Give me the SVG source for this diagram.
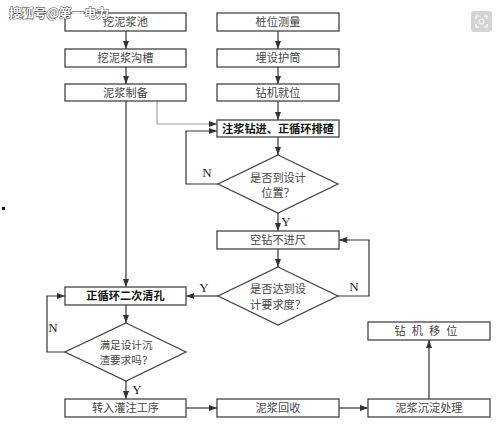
<svg xmlns="http://www.w3.org/2000/svg" width="500" height="427" viewBox="0 0 500 427">
<defs>
<marker id="ah" viewBox="0 0 8 6" refX="8" refY="3" markerWidth="8" markerHeight="6" markerUnits="userSpaceOnUse" orient="auto">
<path d="M0,0 L8,3 L0,6 Z" fill="#333"/>
</marker>
</defs>
<style>
.box{fill:#fff;stroke:#444;stroke-width:1.3}
.t{font-family:"Noto Sans CJK SC","Noto Sans",sans-serif;font-size:11.2px;fill:#444;text-anchor:middle}
.s{font-size:10.6px}
.b{font-weight:bold;fill:#111}
.yn{font-family:"Liberation Serif",serif;font-size:13px;fill:#222;text-anchor:middle}
.c{fill:none;stroke:#333;stroke-width:1.2}
.g{fill:none;stroke:#999;stroke-width:1.1}
</style>
<rect x="0" y="0" width="500" height="427" fill="#fff"/>

<g id="connectors">
<path class="c" d="M126,31 V49" marker-end="url(#ah)"/>
<path class="c" d="M126,67 V84" marker-end="url(#ah)"/>
<path class="c" d="M126,101 V287" marker-end="url(#ah)"/>
<path class="g" d="M157,101 V124 H217" marker-end="url(#ah)"/>
<path class="c" d="M278,31 V49" marker-end="url(#ah)"/>
<path class="c" d="M278,67 V84" marker-end="url(#ah)"/>
<path class="c" d="M278,101 V120" marker-end="url(#ah)"/>
<path class="c" d="M278,137 V155" marker-end="url(#ah)"/>
<path class="c" d="M218,184 H186 V131 H217" marker-end="url(#ah)"/>
<path class="c" d="M278,213 V231" marker-end="url(#ah)"/>
<path class="c" d="M278,249 V267" marker-end="url(#ah)"/>
<path class="c" d="M338,296 H369 V240 H339" marker-end="url(#ah)"/>
<path class="c" d="M218,296 H186" marker-end="url(#ah)"/>
<path class="c" d="M126,305 V323" marker-end="url(#ah)"/>
<path class="c" d="M65,352 H47 V296 H65" marker-end="url(#ah)"/>
<path class="c" d="M126,381 V399" marker-end="url(#ah)"/>
<path class="c" d="M186,408 H217" marker-end="url(#ah)"/>
<path class="c" d="M339,408 H368" marker-end="url(#ah)"/>
<path class="c" d="M429,399 V340" marker-end="url(#ah)"/>
<text class="yn" x="207" y="177">N</text>
<text class="yn" x="286" y="226">Y</text>
<text class="yn" x="354" y="291">N</text>
<text class="yn" x="204" y="292">Y</text>
<text class="yn" x="53" y="332">N</text>
<text class="yn" x="137" y="394">Y</text>
</g>

<g id="n1"><rect class="box" x="65" y="13" width="121" height="18"/><text class="t" x="125.5" y="26">挖泥浆池</text></g>
<g id="n2"><rect class="box" x="65" y="49" width="121" height="18"/><text class="t" x="125.5" y="62">挖泥浆沟槽</text></g>
<g id="n3"><rect class="box" x="65" y="84" width="121" height="17"/><text class="t" x="125.5" y="96.5">泥浆制备</text></g>
<g id="n4"><rect class="box" x="217" y="13" width="122" height="18"/><text class="t" x="278" y="26">桩位测量</text></g>
<g id="n5"><rect class="box" x="217" y="49" width="122" height="18"/><text class="t" x="278" y="62">埋设护筒</text></g>
<g id="n6"><rect class="box" x="217" y="84" width="122" height="17"/><text class="t" x="278" y="96.5">钻机就位</text></g>
<g id="n7"><rect class="box" x="217" y="120" width="122" height="17"/><text class="t b" x="278" y="132.5">注浆钻进、正循环排碴</text></g>
<g id="d1"><path class="box" d="M278,155 L338,184 L278,213 L218,184 Z"/><text class="t" x="278" y="182">是否到设计</text><text class="t" x="278" y="197">位置？</text></g>
<g id="n8"><rect class="box" x="217" y="231" width="122" height="18"/><text class="t" x="278" y="244">空钻不进尺</text></g>
<g id="d2"><path class="box" d="M278,267 L338,296 L278,325 L218,296 Z"/><text class="t" x="278" y="293">是否达到设</text><text class="t" x="278" y="309">计要求度？</text></g>
<g id="n9"><rect class="box" x="65" y="287" width="121" height="18"/><text class="t b" x="125.5" y="300">正循环二次清孔</text></g>
<g id="d3"><path class="box" d="M126,323 L186,352 L126,381 L65,352 Z"/><text class="t s" x="126" y="349">满足设计沉</text><text class="t s" x="126" y="364">渣要求吗？</text></g>
<g id="n10"><rect class="box" x="65" y="399" width="121" height="18"/><text class="t" x="125.5" y="412">转入灌注工序</text></g>
<g id="n11"><rect class="box" x="217" y="399" width="122" height="18"/><text class="t" x="278" y="412">泥浆回收</text></g>
<g id="n12"><rect class="box" x="368" y="399" width="122" height="18"/><text class="t" x="429" y="412">泥浆沉淀处理</text></g>
<g id="n13"><rect class="box" x="368" y="322" width="122" height="18"/><text class="t" x="429" y="335" letter-spacing="6">钻机移位</text></g>

<g id="watermark">
<text x="9" y="18" font-family="Noto Sans CJK SC,sans-serif" font-size="12.5" font-weight="bold" fill="#fff" stroke="#333" stroke-width="0.9" paint-order="stroke">搜狐号@第一电力</text>
<rect x="471" y="11" width="21" height="21" rx="3" fill="#d4d4d4"/>
<path d="M476,19 V16 H479 M484,16 H487 V19 M487,24 V27 H484 M479,27 H476 V24" fill="none" stroke="#fff" stroke-width="1.2"/>
<circle cx="481.5" cy="21.5" r="2.5" fill="none" stroke="#fff" stroke-width="1"/>
<rect x="2" y="207" width="3" height="3" fill="#111"/>
</g>
</svg>
